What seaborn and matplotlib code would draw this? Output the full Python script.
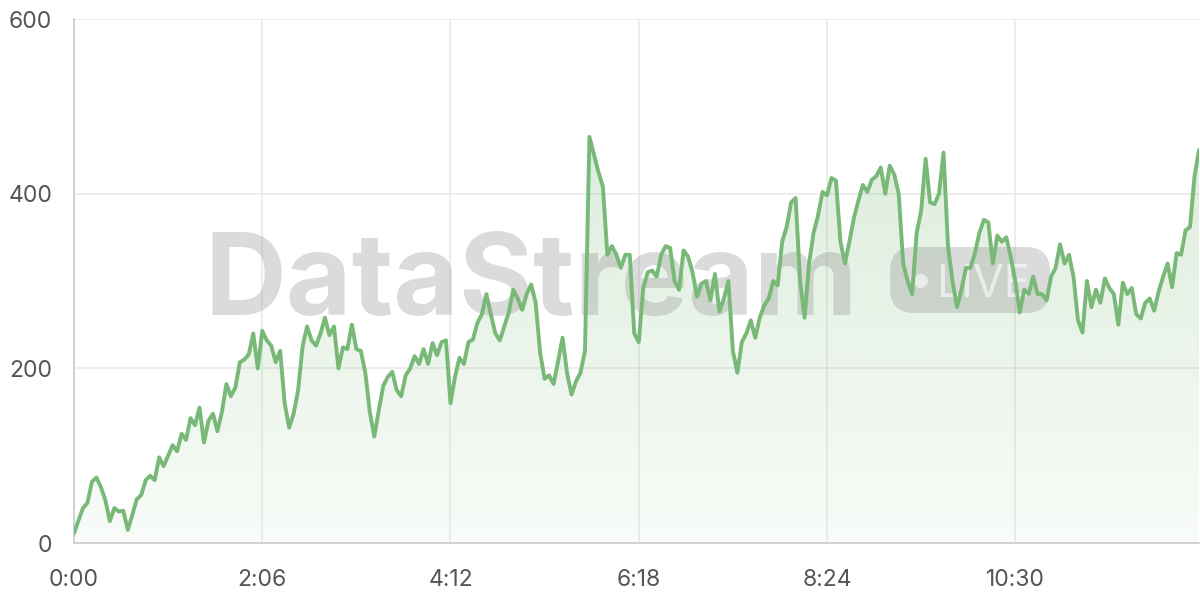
import numpy as np
import pandas as pd
import matplotlib
matplotlib.use("Agg")
import matplotlib.pyplot as plt
import seaborn as sns
from matplotlib.patches import FancyBboxPatch, Circle, PathPatch
from matplotlib.transforms import IdentityTransform
from matplotlib.colors import to_rgb

# ---- data (one reading every 3 seconds) ----
values = [
    11, 26, 40, 46, 70, 75, 64, 49, 25, 40, 36, 37, 15, 32, 50, 55, 72, 77, 72, 98,
    88, 100, 112, 105, 125, 118, 143, 135, 155, 115, 140, 148, 128, 150, 182, 168, 178, 207, 210, 216,
    240, 200, 243, 232, 226, 207, 220, 160, 132, 148, 175, 225, 248, 232, 226, 240, 258, 238, 248, 200,
    224, 222, 250, 222, 220, 195, 150, 122, 152, 180, 190, 196, 175, 168, 192, 200, 214, 205, 222, 205,
    229, 215, 230, 232, 160, 190, 212, 205, 230, 233, 252, 262, 285, 262, 240, 232, 248, 264, 290, 280,
    267, 285, 296, 275, 218, 188, 192, 182, 208, 235, 195, 170, 185, 195, 220, 465, 445, 425, 408, 330,
    340, 330, 315, 330, 330, 240, 230, 292, 310, 312, 305, 330, 340, 338, 300, 290, 335, 328, 310, 282,
    297, 300, 278, 308, 265, 280, 300, 220, 195, 230, 240, 255, 235, 258, 272, 280, 300, 295, 345, 362,
    390, 395, 300, 258, 320, 355, 375, 402, 398, 418, 415, 345, 320, 345, 372, 392, 410, 402, 416, 420,
    430, 400, 432, 422, 400, 320, 300, 285, 355, 380, 440, 390, 388, 400, 447, 340, 300, 270, 290, 315,
    315, 332, 355, 370, 367, 320, 352, 345, 350, 328, 300, 264, 290, 285, 305, 285, 285, 278, 305, 315,
    342, 320, 330, 305, 255, 241, 300, 270, 290, 275, 303, 292, 285, 250, 298, 285, 292, 262, 257, 275,
    280, 266, 288, 305, 320, 293, 332, 330, 358, 362, 420, 450,
]
seconds = np.arange(len(values)) * 3

x_ticks = [0, 126, 252, 378, 504, 630]
x_tick_labels = ["0:00", "2:06", "4:12", "6:18", "8:24", "10:30"]
y_ticks = [0, 200, 400, 600]
watermark = "DataStream"
badge = "LIVE"

df = pd.DataFrame({"t": seconds, "v": values})

sns.set_theme(style="white")
plt.rcParams["font.family"] = ["Inter", "DejaVu Sans"]

W, H = 1200, 600
fig = plt.figure(figsize=(12, 6), dpi=100)
ax = fig.add_axes([74 / W, 57 / H, 1125 / W, 524 / H])

line_color = "#79b977"
rgb = to_rgb(line_color)

# gradient fill under the line
poly = ax.fill_between(df["t"], df["v"], 0, facecolor="none", edgecolor="none", lw=0)
path = poly.get_paths()[0]
clip = PathPatch(path, transform=ax.transData, facecolor="none", edgecolor="none")
ax.add_patch(clip)
n = 256
img = np.zeros((n, 1, 4))
img[..., 0], img[..., 1], img[..., 2] = rgb
img[:, 0, 3] = np.linspace(0.05, 0.26, n)
im = ax.imshow(img, extent=[0, 760, 0, 470], origin="lower", aspect="auto",
               zorder=1, interpolation="bilinear")
im.set_clip_path(clip)

sns.lineplot(data=df, x="t", y="v", color=line_color, lw=2.8, ax=ax, zorder=3)

ax.set_xlim(0, 753)
ax.set_ylim(0, 600)
ax.set_xticks(x_ticks)
ax.set_xticklabels(x_tick_labels)
ax.set_yticks(y_ticks)
ax.set_xlabel("")
ax.set_ylabel("")

ax.grid(True, color="#e8e8e8", lw=1.1)
ax.set_axisbelow(True)
for s in ["top", "right"]:
    ax.spines[s].set_visible(False)
for s in ["left", "bottom"]:
    ax.spines[s].set_color("#cfcfcf")
    ax.spines[s].set_linewidth(1.3)

ax.tick_params(axis="y", length=11.5, width=1.1, color="#e8e8e8", pad=4.3,
               labelsize=16.5, labelcolor="#555555")
ax.tick_params(axis="x", length=10.5, width=1.1, color="#e8e8e8", pad=8.5,
               labelsize=16.5, labelcolor="#555555")

# watermark (figure pixel coordinates)
ident = IdentityTransform()
ax.text(205, H - 315, watermark, transform=ident, fontsize=81.5, fontweight="bold",
        color="#8a8a8a", alpha=0.3, ha="left", va="baseline", zorder=2.5)
box = FancyBboxPatch((890, H - 313), 160, 66, boxstyle="round,pad=0,rounding_size=24",
                     transform=ident, facecolor="#8a8a8a", edgecolor="none", alpha=0.3, zorder=2.5)
ax.add_patch(box)
ax.add_patch(Circle((921, H - 281), 7, transform=ident, facecolor="white",
                    edgecolor="none", alpha=0.6, zorder=2.6))
ax.text(936, H - 297, badge, transform=ident, fontsize=32, color="white", alpha=0.6,
        ha="left", va="baseline", zorder=2.6)

fig.savefig("out.png", dpi=100)
